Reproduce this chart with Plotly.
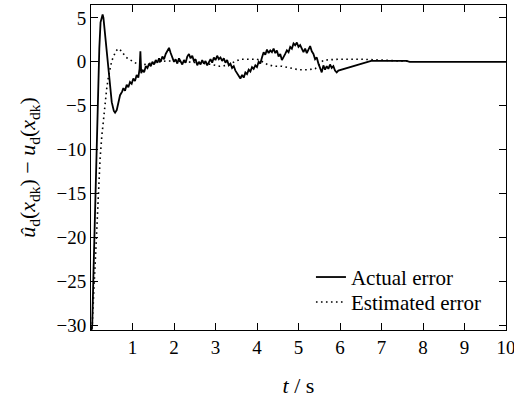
import plotly.graph_objects as go

# Actual error (solid)
t_act = [0.00, 0.03, 0.06, 0.10, 0.14, 0.17, 0.20, 0.23, 0.26, 0.28, 0.30, 0.33, 0.36, 0.40,
         0.45, 0.50, 0.55, 0.58, 0.62, 0.66, 0.70, 0.75, 0.78, 0.82, 0.86, 0.90, 0.94, 0.98,
         1.02, 1.06, 1.10, 1.14, 1.17, 1.19, 1.21, 1.24, 1.28, 1.32, 1.36, 1.40, 1.44, 1.48,
         1.52, 1.56, 1.60, 1.64, 1.68, 1.72, 1.76, 1.80, 1.84, 1.88, 1.92, 1.96, 2.00, 2.04,
         2.08, 2.12, 2.16, 2.20, 2.24, 2.28, 2.32, 2.36, 2.40, 2.44, 2.48, 2.52, 2.56, 2.60,
         2.64, 2.68, 2.72, 2.76, 2.80, 2.84, 2.88, 2.92, 2.96, 3.00, 3.04, 3.08, 3.12, 3.16,
         3.20, 3.24, 3.28, 3.32, 3.36, 3.40, 3.44, 3.48, 3.52, 3.56, 3.60, 3.64, 3.68, 3.72,
         3.76, 3.80, 3.84, 3.88, 3.92, 3.96, 4.00, 4.04, 4.08, 4.12, 4.16, 4.20, 4.24, 4.28,
         4.32, 4.36, 4.40, 4.44, 4.48, 4.52, 4.56, 4.60, 4.64, 4.68, 4.72, 4.76, 4.80, 4.84,
         4.88, 4.92, 4.96, 5.00, 5.04, 5.08, 5.12, 5.16, 5.20, 5.24, 5.28, 5.32, 5.36, 5.40,
         5.44, 5.48, 5.52, 5.56, 5.60, 5.64, 5.68, 5.72, 5.76, 5.80, 5.84, 5.88, 5.92, 5.96,
         6.75, 7.60, 7.68, 10.0]
e_act = [-31.0, -30.0, -24.0, -16.0, -10.0, -4.0, 1.5, 4.5, 5.3, 5.4, 5.0, 3.5, 1.5, -0.5,
         -2.8, -4.6, -5.6, -5.8, -5.5, -4.6, -3.8, -3.4, -3.0, -3.3, -2.6, -2.9, -2.3, -2.5,
         -1.9, -2.2, -1.5, -1.8, -0.8, 1.2, -1.3, -0.9, -1.2, -0.5, -0.7, -0.2, -0.5, 0.0,
         -0.3, 0.2, -0.1, 0.4, 0.0, 0.6, 0.3, 0.9, 1.2, 1.6, 1.0, 0.5, 0.0, 0.3,
         -0.2, 0.4, 0.1, -0.3, 0.2, -0.1, 0.6, 0.9, 0.4, 0.7, 0.1, 0.3, -0.4, 0.0,
         -0.3, 0.2, -0.2, 0.1, -0.4, 0.0, 0.3, -0.1, 0.5, 0.2, 0.7, 0.3, 0.5, 0.1,
         0.4, -0.1, 0.2, -0.4, -0.2, -0.7, -0.5, -1.0, -1.3, -1.6, -1.9, -1.5, -1.8, -1.2,
         -1.4, -0.9, -1.1, -0.6, -0.8, -0.4, -0.6, 0.0, -0.2, 0.5, 1.1, 0.8, 1.4, 1.0,
         1.3, 1.1, 1.5, 1.0, 1.3, 0.6, 0.9, 0.2, 0.5, 0.9, 1.3, 1.1, 1.7, 1.5,
         2.1, 1.9, 2.2, 1.7, 1.9, 1.4, 1.1, 1.5, 1.0, 1.4, 1.8, 1.2, 0.9, 0.3,
         0.5, -0.2, -0.6, -1.2, -0.4, -0.9, -0.5, -0.8, -0.3, -0.7, -0.5, -1.0, -1.2, -1.0,
         0.1, 0.1, 0.0, 0.0]

# Estimated error (dotted)
t_est = [0.02, 0.06, 0.10, 0.14, 0.18, 0.22, 0.26, 0.30, 0.34, 0.38, 0.42, 0.46, 0.50, 0.55,
         0.60, 0.65, 0.70, 0.75, 0.80, 0.85, 0.90, 0.95, 1.00, 1.10, 1.20, 1.30, 1.50, 1.80,
         2.00, 2.30, 2.60, 2.90, 3.10, 3.30, 3.45, 3.60, 3.80, 4.00, 4.10, 4.25, 4.40, 4.60,
         4.80, 5.00, 5.20, 5.40, 5.50, 5.60, 6.00, 6.50, 7.00, 7.70]
e_est = [-31.0, -27.0, -22.0, -17.5, -14.0, -11.0, -8.5, -6.5, -4.6, -3.0, -1.7, -0.7, 0.1, 0.7,
         1.2, 1.5, 1.4, 1.1, 0.8, 0.5, 0.35, 0.2, 0.1, -0.2, -0.4, -0.3, -0.1, 0.1,
         0.1, 0.0, -0.1, -0.3, -0.5, -0.4, 0.0, 0.3, 0.3, 0.3, 0.1, -0.3, -0.5, -0.5,
         -0.7, -0.9, -0.9, -0.8, -0.3, 0.2, 0.3, 0.3, 0.2, 0.05]

x_ticks = [1, 2, 3, 4, 5, 6, 7, 8, 9, 10]
y_ticks = [-30, -25, -20, -15, -10, -5, 0, 5]
y_tick_text = ["\u221230", "\u221225", "\u221220", "\u221215", "\u221210", "\u22125", "0", "5"]

FONT = "Liberation Serif"

fig = go.Figure()
fig.add_trace(go.Scatter(x=t_act, y=e_act, mode="lines", name="Actual error",
                         line=dict(color="black", width=1.8), legend="legend"))
fig.add_trace(go.Scatter(x=t_est, y=e_est, mode="lines", name="Estimated error",
                         line=dict(color="black", width=1.6, dash="1.6px,3.4px"),
                         legend="legend2"))

axis_common = dict(showline=True, linecolor="black", linewidth=1, mirror="ticks",
                   ticks="inside", ticklen=7, tickwidth=1, tickcolor="black",
                   showgrid=False, zeroline=False, ticklabeloverflow="allow",
                   automargin=False,
                   tickfont=dict(family=FONT, size=19, color="black"))

legend_common = dict(xanchor="left", yanchor="top", bgcolor="rgba(0,0,0,0)", borderwidth=0,
                     font=dict(family=FONT, size=21, color="black"))

fig.update_layout(
    width=514, height=399,
    margin=dict(l=91, r=8, t=5, b=69),
    paper_bgcolor="white", plot_bgcolor="white",
    showlegend=True,
    legend=dict(x=0.53, y=0.225, **legend_common),
    legend2=dict(x=0.53, y=0.148, **legend_common),
    xaxis=dict(range=[0, 10], tickvals=x_ticks,
               title=dict(text="<i>t</i> / s", font=dict(family=FONT, size=22, color="black"),
                          standoff=20),
               **axis_common),
    yaxis=dict(range=[-30.57, 6.48], tickvals=y_ticks, ticktext=y_tick_text,
               title=dict(text="<i>\u00fb</i><sub>d</sub>(<i>x</i><sub>dk</sub>) \u2212 "
                               "<i>u</i><sub>d</sub>(<i>x</i><sub>dk</sub>)",
                          font=dict(family=FONT, size=22, color="black"), standoff=14),
               **axis_common),
)

fig.write_html("out.html")
